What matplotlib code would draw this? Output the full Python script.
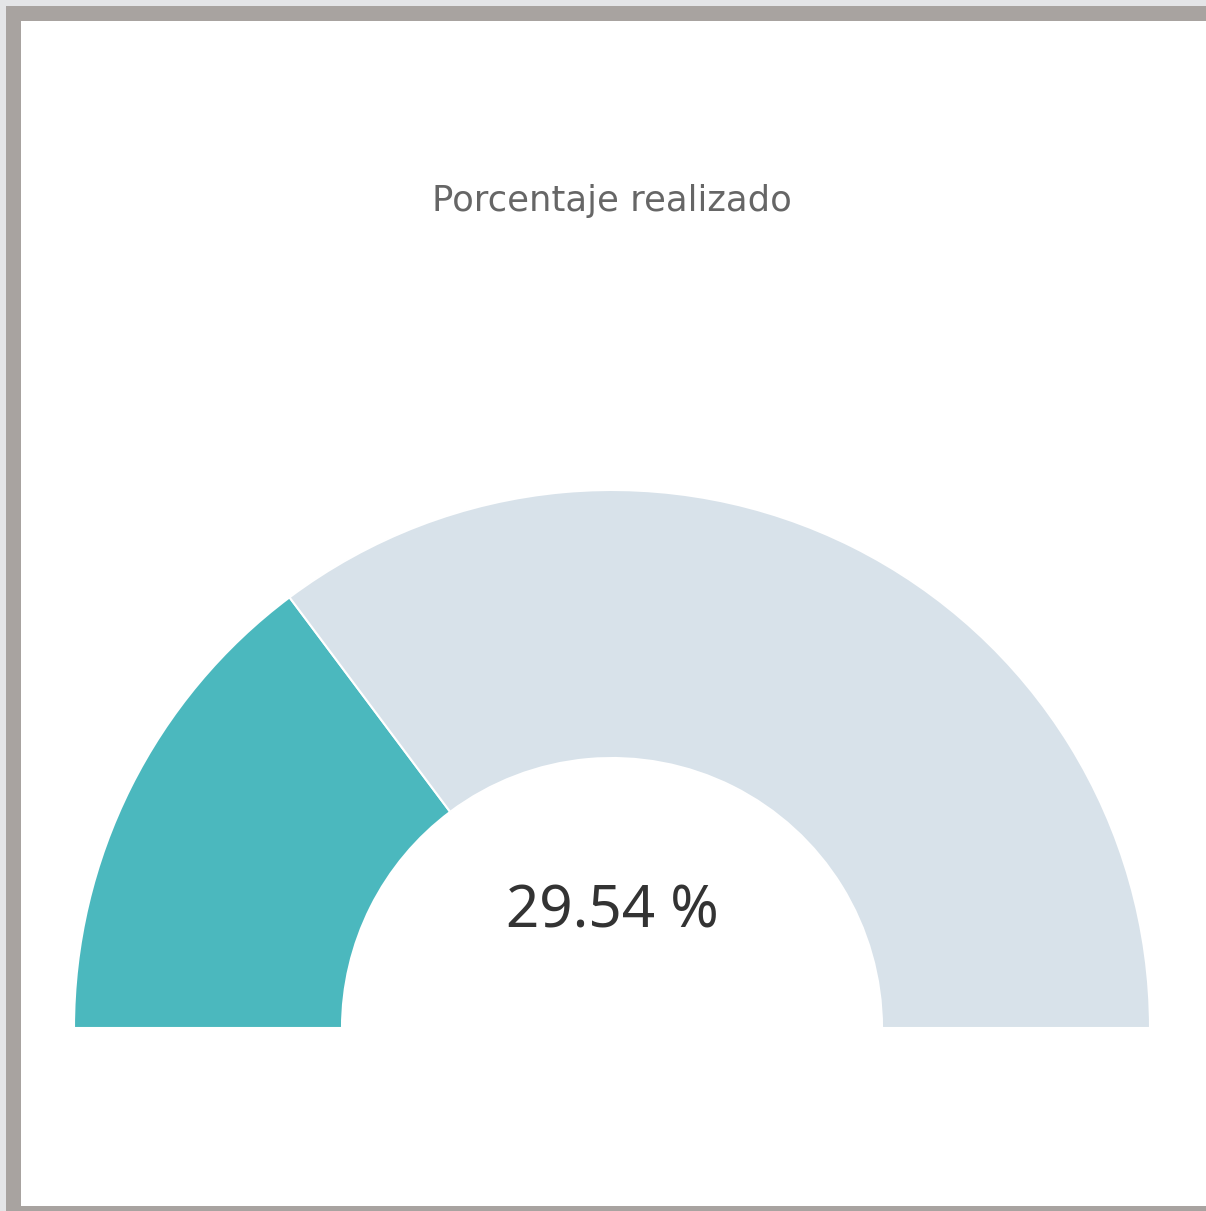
import matplotlib
matplotlib.use('Agg')
import matplotlib.pyplot as plt
from matplotlib.patches import Rectangle

# gauge data
title = 'Porcentaje realizado'
done_pct = 29.54
labels = ['Realizado', 'Pendiente']
values = [done_pct, 100 - done_pct]
colors = ['#4bb8be', '#d8e2ea']

W, H = 1206, 1211
fig = plt.figure(figsize=(W / 100, H / 100), dpi=100, facecolor='#e4e5e7')
ax = fig.add_axes([0, 0, 1, 1])

# panel border (pixel coords, y measured from the bottom)
ax.add_patch(Rectangle((6, 0), W - 6, H - 6, facecolor='#a8a3a0', edgecolor='none'))
ax.add_patch(Rectangle((21, 5), W - 21, H - 26, facecolor='white', edgecolor='none'))

# half donut: invisible bottom half balances the 100 %
cx, cy, r_out, r_in = 612, H - 1028, 538, 270
wedges, _ = ax.pie(values + [100], colors=colors + ['none'], startangle=180,
                   counterclock=False, center=(cx, cy), radius=r_out, frame=True,
                   wedgeprops=dict(width=r_out - r_in, edgecolor='white', linewidth=1.5))
wedges[2].set_edgecolor('none')
ax.set_xlim(0, W)
ax.set_ylim(0, H)
ax.set_aspect('auto')
ax.axis('off')

ax.text(cx, H - 201, title, ha='center', va='center', fontsize=25.5,
        color='#666666', family='DejaVu Sans')
ax.text(cx, H - 912, f'{done_pct:.2f} %', ha='center', va='center', fontsize=42,
        color='#333333', family='Noto Sans')

fig.savefig('out.png', dpi=100, facecolor=fig.get_facecolor())
